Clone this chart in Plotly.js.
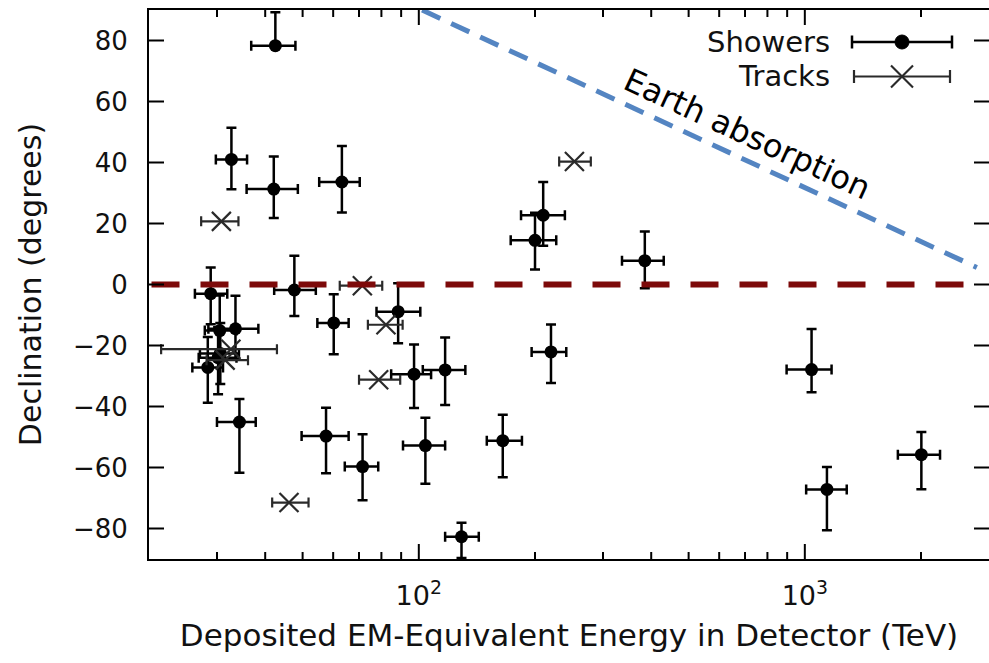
<!DOCTYPE html>
<html>
<head>
<meta charset="utf-8">
<script src="https://cdn.plot.ly/plotly-3.0.1.min.js"></script>
<style>html,body{margin:0;padding:0;background:#fff;}#chart{width:989px;height:663px;}</style>
</head>
<body>
<div id="chart"></div>
<script>
// Showers (deposited energy in TeV, declination in degrees)
const showerE      = [47.6, 117, 165, 28.4, 34.3, 63.2, 97.2, 88.4, 104, 1041, 57.5, 30.6, 200, 71.5, 1141, 30.2, 220, 30.5, 33.5, 210, 60.2, 32.7, 129, 42.5, 385, 42.1, 2004, 28.9];
const showerEplus  = [6.5, 15, 20, 2.7, 3.5, 7.1, 10.4, 12.5, 13, 132, 8.3, 3.6, 27, 7.0, 143, 3.5, 21, 3.2, 4.9, 29, 5.6, 3.2, 14, 5.4, 46, 6.5, 236, 3.0];
const showerEminus = [5.4, 14.6, 15, 2.5, 4.3, 8.0, 12.4, 10.7, 13, 144, 7.8, 3.5, 27, 7.2, 133, 3.3, 24, 2.6, 5.0, 26, 5.6, 2.9, 12, 5.7, 49, 6.3, 262, 2.6];
const showerDec      = [-1.8, -28.0, -51.2, -27.2, -45.1, 33.6, -29.4, -8.9, -52.8, -27.9, -49.7, -22.6, 14.5, -59.7, -67.2, -24.0, -22.1, -15.1, -14.5, 22.7, -12.6, 41.0, -82.7, 78.3, 7.8, 31.3, -55.8, -3.0];
const showerDecPlus  = [11.2, 10.6, 8.5, 10, 7.6, 11.8, 9.7, 9.3, 9.1, 13.3, 9.3, 10, 9, 10.6, 7.4, 10, 9, 11.5, 10.8, 10.9, 9.4, 10.4, 4.6, 11, 9.6, 10.7, 7.4, 8.6];
const showerDecMinus = [8.5, 11.5, 12, 11.6, 16.6, 10, 11.1, 10.4, 12.5, 7.4, 12.2, 10, 9.6, 11, 13.4, 12, 10.2, 10, 10, 10, 10.3, 9.8, 7, 0, 9, 9.5, 11.3, 10];

// Tracks
const trackE      = [78.7, 71.4, 32.6, 253, 31.5, 82.2, 46.1, 30.8];
const trackEplus  = [10.8, 9.0, 10.3, 26, 4.6, 8.6, 5.7, 3.3];
const trackEminus = [8.7, 9.0, 11.1, 22, 3.3, 8.4, 4.4, 3.5];
const trackDec    = [-31.2, -0.4, -21.2, 40.3, -24.8, -13.2, -71.5, 20.7];

// Reference lines
const earthE   = [102, 2790];
const earthDec = [90, 5.6];
const zeroE    = [20.3, 2630];
const zeroDec  = [0, 0];

// Axis ticks
const majorTicks = [100, 1000];
const majorTickText = ['10<sup>2</sup>', '10<sup>3</sup>'];
const minorTicks = [30, 40, 50, 60, 70, 80, 90, 200, 300, 400, 500, 600, 700, 800, 900, 2000];
const yTicks = [-80, -60, -40, -20, 0, 20, 40, 60, 80];

const FONT = 'DejaVu Sans, Liberation Sans, Arial, sans-serif';
const INK = '#111';
const TRK = '#2a2a2a';
const XRANGE = [Math.log10(20), Math.log10(3000)];

const traces = [
  {
    x: showerE, y: showerDec, type: 'scatter', mode: 'markers', name: 'Showers',
    marker: {symbol: 'circle', size: 13, color: '#000'},
    error_x: {type: 'data', symmetric: false, array: showerEplus, arrayminus: showerEminus, color: '#000', thickness: 2.5, width: 5},
    error_y: {type: 'data', symmetric: false, array: showerDecPlus, arrayminus: showerDecMinus, color: '#000', thickness: 2.5, width: 5},
    hoverinfo: 'x+y'
  },
  {
    x: trackE, y: trackDec, type: 'scatter', mode: 'markers', name: 'Tracks',
    marker: {symbol: 'x-thin-open', size: 19, color: TRK, line: {width: 2.2, color: TRK}},
    error_x: {type: 'data', symmetric: false, array: trackEplus, arrayminus: trackEminus, color: TRK, thickness: 2.2, width: 5},
    hoverinfo: 'x+y'
  },
  {
    x: zeroE, y: zeroDec, type: 'scatter', mode: 'lines', showlegend: false, hoverinfo: 'skip',
    line: {color: '#7d0a0a', width: 6, dash: '28px,21px'}
  },
  {
    x: earthE, y: earthDec, type: 'scatter', mode: 'lines', showlegend: false, hoverinfo: 'skip',
    line: {color: '#5485c2', width: 5, dash: '20px,12px'}
  }
];

// legend glyph geometry (pixel offsets around paper anchors)
const PW = 840, PH = 549, ML = 149, MT = 10;
const px = v => (v - ML) / PW;
const py = v => (MT + PH - v) / PH;
const legX = px(902), legY1 = py(42), legY2 = py(76.5);
function pl(xa, ya, x0, y0, x1, y1, color, w) {
  return {type: 'line', xref: 'paper', yref: 'paper', xsizemode: 'pixel', ysizemode: 'pixel',
    xanchor: xa, yanchor: ya, x0: x0, y0: y0, x1: x1, y1: y1, line: {color: color, width: w}};
}
const shapes = [
  pl(legX, legY1, -50, 0, 50, 0, '#000', 2.5),
  pl(legX, legY1, -50, -6.5, -50, 6.5, '#000', 2.5),
  pl(legX, legY1, 50, -6.5, 50, 6.5, '#000', 2.5),
  {type: 'circle', xref: 'paper', yref: 'paper', xsizemode: 'pixel', ysizemode: 'pixel',
   xanchor: legX, yanchor: legY1, x0: -7, x1: 7, y0: -7, y1: 7, fillcolor: '#000', line: {color: '#000', width: 1}},
  pl(legX, legY2, -48, 0, 48, 0, TRK, 2.2),
  pl(legX, legY2, -48, -6.5, -48, 6.5, TRK, 2.2),
  pl(legX, legY2, 48, -6.5, 48, 6.5, TRK, 2.2),
  pl(legX, legY2, -11, -11, 11, 11, TRK, 2.2),
  pl(legX, legY2, -11, 11, 11, -11, TRK, 2.2)
];

// Tick marks (inside, mirrored), positioned via the axis scale
const xFrac = v => (Math.log10(v) - XRANGE[0]) / (XRANGE[1] - XRANGE[0]);
function xTick(v, len) {
  const f = xFrac(v);
  shapes.push(pl(f, 0, 0, 0, 0, len, '#000', 2));
  shapes.push(pl(f, 1, 0, 0, 0, -len, '#000', 2));
}
majorTicks.forEach(v => xTick(v, 15));
minorTicks.forEach(v => xTick(v, 7));
yTicks.forEach(v => {
  shapes.push({type: 'line', xref: 'paper', yref: 'y', xsizemode: 'pixel', xanchor: 0,
    x0: 0, x1: 15, y0: v, y1: v, line: {color: '#000', width: 2}});
  shapes.push({type: 'line', xref: 'paper', yref: 'y', xsizemode: 'pixel', xanchor: 1,
    x0: 0, x1: -15, y0: v, y1: v, line: {color: '#000', width: 2}});
});

const layout = {
  width: 989, height: 663,
  margin: {l: ML, r: 0, t: MT, b: 663 - MT - PH},
  paper_bgcolor: '#fff', plot_bgcolor: '#fff',
  showlegend: false,
  font: {family: FONT, color: INK},
  xaxis: {
    type: 'log', range: XRANGE,
    tickmode: 'array', tickvals: majorTicks, ticktext: majorTickText,
    showline: true, linecolor: '#000', linewidth: 2, mirror: true,
    ticks: '', showgrid: false, zeroline: false,
    tickfont: {family: FONT, size: 27, color: INK}, ticklabelstandoff: 12,
    title: {text: 'Deposited EM-Equivalent Energy in Detector (TeV)', font: {family: FONT, size: 31, color: INK}, standoff: 14}
  },
  yaxis: {
    range: [-90, 90], tickmode: 'array', tickvals: yTicks,
    showline: true, linecolor: '#000', linewidth: 2, mirror: true,
    ticks: '', showgrid: false, zeroline: false,
    tickfont: {family: FONT, size: 26, color: INK}, ticklabelstandoff: 14,
    title: {text: 'Declination (degrees)', font: {family: FONT, size: 30, color: INK}, standoff: 22}
  },
  shapes: shapes,
  annotations: [
    {x: Math.log10(710), y: 49.5, xref: 'x', yref: 'y', text: 'Earth absorption', showarrow: false,
     textangle: 24.8, xanchor: 'center', yanchor: 'middle', font: {family: FONT, size: 32, color: '#000'}},
    {x: px(832), y: legY1, xref: 'paper', yref: 'paper', text: 'Showers', showarrow: false,
     xanchor: 'right', yanchor: 'middle', font: {family: FONT, size: 29, color: INK}},
    {x: px(832), y: legY2, xref: 'paper', yref: 'paper', text: 'Tracks', showarrow: false,
     xanchor: 'right', yanchor: 'middle', font: {family: FONT, size: 29, color: INK}}
  ]
};

Plotly.newPlot('chart', traces, layout, {displayModeBar: false, staticPlot: true});
</script>
</body>
</html>
